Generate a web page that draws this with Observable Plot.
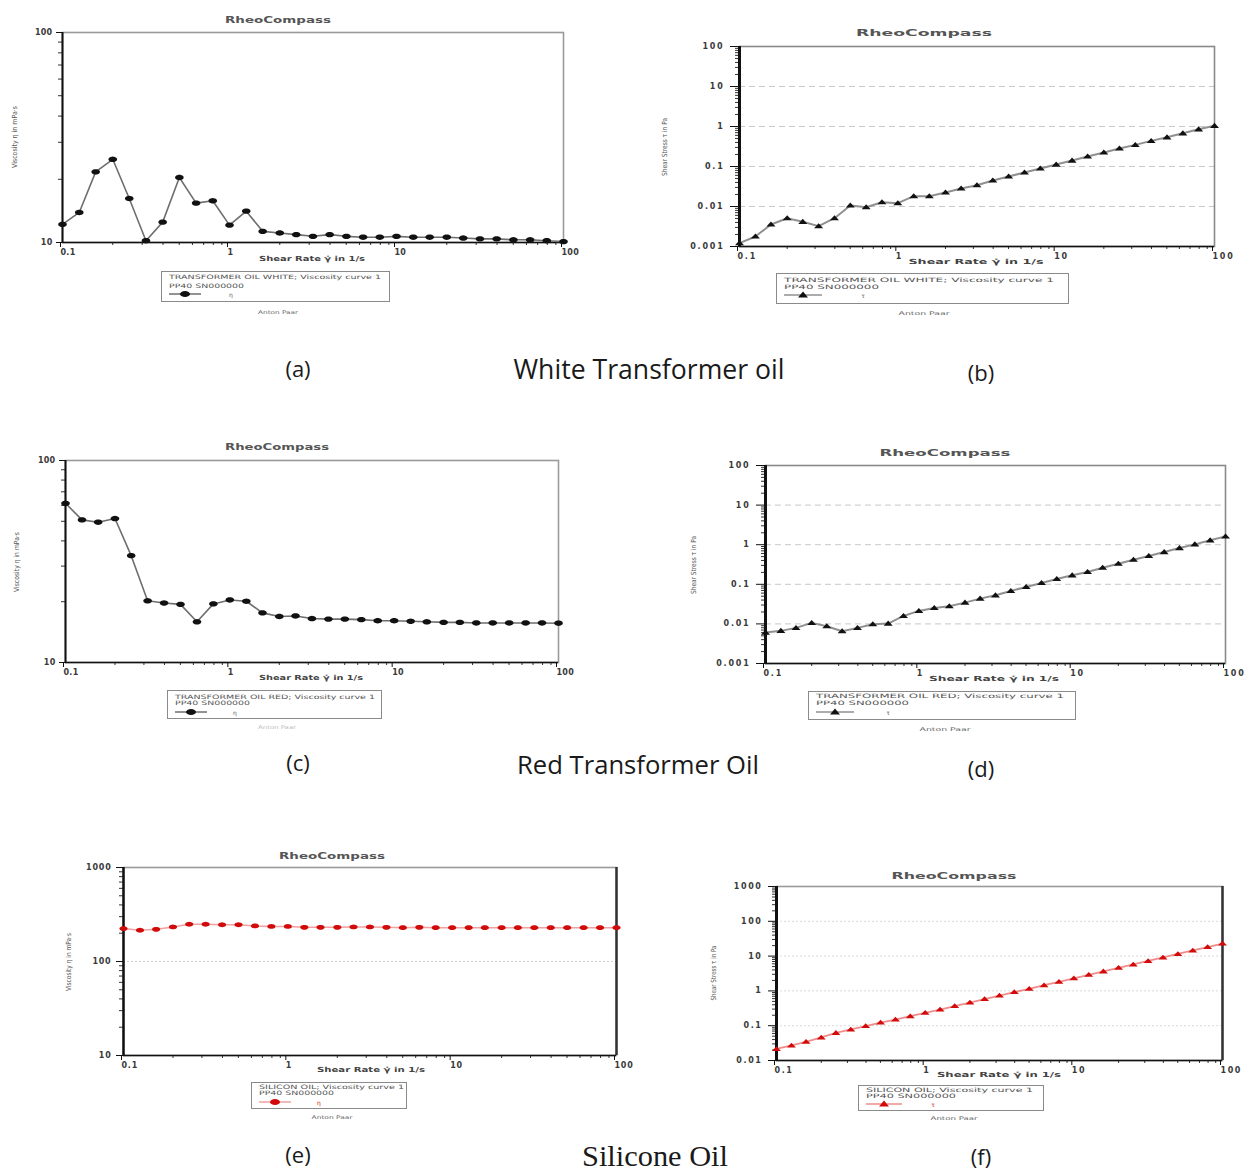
<!DOCTYPE html>
<html>
<head>
<meta charset="utf-8">
<script src="https://cdn.jsdelivr.net/npm/d3@7"></script>
<script src="https://cdn.jsdelivr.net/npm/@observablehq/plot@0.6"></script>
<style>
  html, body { margin: 0; padding: 0; background: #fff; }
  #page { position: relative; width: 1246px; height: 1174px; background: #fff; overflow: hidden; }
  #page svg.panel text { font-family: "DejaVu Sans", sans-serif; font-weight: bold; fill: #3a3a3a; }
</style>
</head>
<body>
<div id="page"></div>
<script>
// ---------------- data ----------------
const shearRate = [0.1, 0.126, 0.158, 0.2, 0.251, 0.316, 0.398, 0.501, 0.631, 0.794,
  1, 1.26, 1.58, 2, 2.51, 3.16, 3.98, 5.01, 6.31, 7.94,
  10, 12.6, 15.8, 20, 25.1, 31.6, 39.8, 50.1, 63.1, 79.4, 100];

const whiteViscosity = [12.2, 13.9, 21.7, 24.9, 16.2, 10.2, 12.5, 20.4, 15.4, 15.8,
  12.1, 14.1, 11.3, 11.1, 10.9, 10.7, 10.9, 10.7, 10.6, 10.6,
  10.7, 10.6, 10.6, 10.6, 10.5, 10.4, 10.4, 10.3, 10.3, 10.2, 10.1];

const whiteStress = [0.00121, 0.00178, 0.00355, 0.0051, 0.00414, 0.00323, 0.0051, 0.0106, 0.0096, 0.0128,
  0.0121, 0.0181, 0.0181, 0.0224, 0.0282, 0.0341, 0.0447, 0.0562, 0.0708, 0.0891,
  0.112, 0.141, 0.178, 0.224, 0.282, 0.347, 0.437, 0.537, 0.676, 0.851, 1.04];

const redViscosity = [61.4, 50.8, 49.5, 51.6, 33.8, 20.2, 19.7, 19.4, 15.9, 19.5,
  20.4, 20.1, 17.6, 16.9, 17.0, 16.5, 16.4, 16.4, 16.3, 16.1,
  16.1, 16.0, 15.9, 15.8, 15.8, 15.7, 15.7, 15.7, 15.7, 15.7, 15.65];

const redStress = [0.00603, 0.00667, 0.00793, 0.0106, 0.00874, 0.00653, 0.00793, 0.0098, 0.0102, 0.0159,
  0.0213, 0.0253, 0.0279, 0.0345, 0.0435, 0.0528, 0.0679, 0.0857, 0.108, 0.136,
  0.169, 0.205, 0.263, 0.332, 0.418, 0.518, 0.653, 0.824, 1.02, 1.29, 1.62];

const siliconViscosity = [224, 215, 220, 233, 249, 249, 246, 246, 239, 236,
  236, 231, 231, 231, 233, 233, 231, 229, 231, 229,
  229, 229, 229, 229, 229, 229, 229, 229, 229, 229, 229];

const siliconStress = [0.0215, 0.027, 0.0345, 0.046, 0.062, 0.078, 0.097, 0.123, 0.150, 0.187,
  0.234, 0.290, 0.365, 0.462, 0.585, 0.735, 0.92, 1.15, 1.46, 1.82,
  2.30, 2.89, 3.63, 4.58, 5.76, 7.25, 9.12, 11.5, 14.5, 18.2, 23];

const xTickLabels = [0.1, 1, 10, 100];
const viscTicks2 = [10, 100];
const viscTicks3 = [10, 100, 1000];
const stressTicks5 = [0.001, 0.01, 0.1, 1, 10, 100];
const stressTicks6 = [0.01, 0.1, 1, 10, 100, 1000];

const chartTitle = "RheoCompass";
const xTitle = "Shear Rate γ̇ in 1/s";
const viscTitle = "Viscosity η in mPa·s";
const stressTitle = "Shear Stress τ in Pa";
const maker = "Anton Paar";
const measuringSystem = "PP40 SN000000";
const sampleWhite = "TRANSFORMER OIL WHITE; Viscosity curve 1";
const sampleRed = "TRANSFORMER OIL RED; Viscosity curve 1";
const sampleSilicon = "SILICON OIL; Viscosity curve 1";

const panelLetters = ["(a)", "(b)", "(c)", "(d)", "(e)", "(f)"];
const groupNames = ["White Transformer oil", "Red Transformer Oil", "Silicone Oil"];

// ---------------- marker shapes ----------------
const ellipseSymbol = (sx) => ({
  draw(ctx, size) {
    const r = Math.sqrt(size / Math.PI);
    const n = 24;
    for (let i = 0; i < n; i++) {
      const a = 2 * Math.PI * i / n;
      const px = r * sx * Math.cos(a), py = r * Math.sin(a);
      if (i) ctx.lineTo(px, py); else ctx.moveTo(px, py);
    }
    ctx.closePath();
  }
});
const triangleSymbol = (sx) => ({
  draw(ctx, size) {
    const r = Math.sqrt(size / Math.PI);
    ctx.moveTo(0, -r);
    ctx.lineTo(r * sx, r * 0.7);
    ctx.lineTo(-r * sx, r * 0.7);
    ctx.closePath();
  }
});

const page = document.getElementById("page");

function addText(str, x, y, o) {
  const d = document.createElement("div");
  d.textContent = str;
  Object.assign(d.style, {
    position: "absolute", left: x + "px", top: y + "px", whiteSpace: "nowrap", lineHeight: "1",
    fontFamily: o.font || "'DejaVu Sans', sans-serif", fontSize: o.size + "px",
    fontWeight: o.weight || "normal", color: o.color || "#333"
  });
  page.appendChild(d);
  const w = d.getBoundingClientRect().width;
  const k = o.target ? o.target / w : 1;
  if (o.align === "left") {
    d.style.transformOrigin = "0 50%";
    d.style.transform = `translate(0,-50%) scaleX(${k})`;
  } else {
    const rot = o.rotate ? " rotate(-90deg)" : "";
    d.style.transform = `translate(-50%,-50%)${rot} scaleX(${k})`;
  }
  return d;
}

function addCaption(str, cx, cy, font, size, target) {
  const d = document.createElement("div");
  d.textContent = str;
  Object.assign(d.style, {position: "absolute", left: cx + "px", top: cy + "px", whiteSpace: "nowrap",
    lineHeight: "1", fontFamily: font, fontSize: size + "px", color: "#1a1a1a"});
  page.appendChild(d);
  if (target) {
    const w = d.getBoundingClientRect().width;
    d.style.fontSize = (size * target / w) + "px";
  }
  d.style.transform = "translate(-50%,-50%)";
}

function makePanel(p) {
  const ml = 60, mr = 16, mt = 8, mb = 16;
  const fw = p.right - p.left, fh = p.bottom - p.top;
  const data = shearRate.map((x, i) => ({x, y: p.values[i]}));
  const yMinor = d3.scaleLog().domain(p.yDomain).ticks().filter(v => !p.yTicks.includes(v));
  const xMinor = d3.scaleLog().domain([0.1, 100]).ticks().filter(v => !xTickLabels.includes(v));
  const marks = [];
  for (const g of p.grid) {
    marks.push(Plot.ruleY(g.values, {stroke: g.stroke, strokeDasharray: g.dash, strokeWidth: 1}));
  }
  marks.push(Plot.frame({stroke: p.frameColor, strokeWidth: 1.6}));
  if (p.rightDark) marks.push(Plot.ruleX([100], {stroke: "#333", strokeWidth: 2.5}));
  marks.push(Plot.axisX({ticks: xMinor, tickSize: 3, tickFormat: () => "", stroke: "#333", label: null}));
  marks.push(Plot.axisX({ticks: xTickLabels, tickSize: 5, tickPadding: 2, tickFormat: d => String(d),
    textAnchor: "start", dx: -2, fontSize: 8, stroke: "#111", label: null}));
  marks.push(Plot.axisY({ticks: yMinor, tickSize: 4, tickFormat: () => "", stroke: "#333", label: null}));
  marks.push(Plot.axisY({ticks: p.yTicks, tickSize: p.majorLen, tickPadding: p.labelPad, tickFormat: d => String(d),
    fontSize: 8, stroke: "#111", label: null}));
  marks.push(Plot.ruleX([0.1], {stroke: "#111", strokeWidth: p.axisWidth}));
  marks.push(Plot.ruleY([p.yDomain[0]], {stroke: "#111", strokeWidth: 1.6}));
  marks.push(Plot.line(data, {x: "x", y: "y", stroke: p.lineColor, strokeWidth: p.lineWidth}));
  marks.push(Plot.dot(data, {x: "x", y: "y", r: p.r, symbol: p.symbol, fill: p.dotColor, stroke: "none"}));

  const svg = Plot.plot({
    width: fw + ml + mr, height: fh + mt + mb,
    marginLeft: ml, marginRight: mr, marginTop: mt, marginBottom: mb,
    x: {type: "log", domain: [0.1, 100], label: null},
    y: {type: "log", domain: p.yDomain, label: null},
    style: {background: "transparent", fontSize: "8px", letterSpacing: p.spacing + "px", overflow: "visible"},
    marks
  });
  svg.classList.add("panel");
  Object.assign(svg.style, {position: "absolute", left: (p.left - ml) + "px", top: (p.top - mt) + "px"});
  page.appendChild(svg);

  // texts
  addText(chartTitle, p.title[0], p.title[1], {size: 9, weight: "bold", color: "#555", target: p.title[2]});
  addText(xTitle, p.xTitle[0], p.xTitle[1], {size: 7, weight: "bold", color: "#444", target: p.xTitle[2]});
  addText(p.yLabel, p.yTitle[0], p.yTitle[1], {size: 7, color: "#555", rotate: true, target: p.yTitle[2]});

  // legend
  const L = p.legend;
  const box = document.createElement("div");
  Object.assign(box.style, {position: "absolute", left: L.x + "px", top: L.y + "px", width: L.w + "px",
    height: L.h + "px", border: "1.5px solid #8a8a8a", boxSizing: "border-box"});
  page.appendChild(box);
  addText(p.sample, L.x + 8, L.y + L.o1, {size: 6, color: "#555", align: "left", target: L.t1});
  addText(measuringSystem, L.x + 8, L.y + L.o2, {size: 6, color: "#555", align: "left", target: L.t2});
  const sw = document.createElement("div");
  const w = L.sw;
  const shape = p.kind === "circle"
    ? `<ellipse cx="${w / 2}" cy="4" rx="5" ry="3" fill="${p.dotColor}"/>`
    : `<path d="M${w / 2},0.5 L${w / 2 + 5},6.5 L${w / 2 - 5},6.5Z" fill="${p.dotColor}"/>`;
  sw.innerHTML = `<svg width="${w}" height="8"><line x1="0" y1="4" x2="${w}" y2="4" stroke="${p.lineColor}" stroke-width="1.5"/>${shape}</svg>`;
  Object.assign(sw.style, {position: "absolute", left: (L.x + 8) + "px", top: (L.y + L.o3 - 4) + "px", lineHeight: "0"});
  page.appendChild(sw);
  addText(p.sym, L.x + L.symOff, L.y + L.o3 + 1, {size: 6, color: p.dotColor === red ? red : "#555"});
  addText(maker, p.ap[0], p.ap[1], {size: 5, color: p.apColor || "#666", target: p.ap[2]});
}

const black = "#111", red = "#d10a0a";

const panels = [
  { // (a)
    left: 62, right: 563, top: 32, bottom: 242, yDomain: [10, 100], yTicks: viscTicks2, values: whiteViscosity,
    title: [278, 20, 106], xTitle: [312, 259, 106], yTitle: [15, 137, 62], yLabel: viscTitle,
    legend: {x: 161, y: 271, w: 229, h: 31, t1: 212, t2: 75, sw: 32, symOff: 70, o1: 6, o2: 15, o3: 23},
    ap: [278, 312, 40], sample: sampleWhite, sym: "η", kind: "circle",
    symbol: ellipseSymbol(1.6), r: 2.7, dotColor: black, lineColor: "#6e6e6e", lineWidth: 1.6,
    grid: [], frameColor: "#9a9a9a", axisWidth: 2, majorLen: 6, labelPad: 4, spacing: 0.3
  },
  { // (b)
    left: 739, right: 1214, top: 46, bottom: 246, yDomain: [0.001, 100], yTicks: stressTicks5, values: whiteStress,
    title: [924, 33, 136], xTitle: [976, 262, 135], yTitle: [665, 147, 58], yLabel: stressTitle,
    legend: {x: 776, y: 273, w: 293, h: 31, t1: 270, t2: 95, sw: 38, symOff: 87, o1: 7, o2: 14, o3: 22},
    ap: [924, 313, 51], sample: sampleWhite, sym: "τ", kind: "triangle",
    symbol: triangleSymbol(1.5), r: 3, dotColor: black, lineColor: "#909090", lineWidth: 2,
    grid: [{values: [0.01, 0.1, 1, 10], stroke: "#c8c8c8", dash: "6,4"}],
    frameColor: "#8a8a8a", axisWidth: 3, majorLen: 9, labelPad: 6, spacing: 1.8
  },
  { // (c)
    left: 65, right: 558, top: 460, bottom: 662, yDomain: [10, 100], yTicks: viscTicks2, values: redViscosity,
    title: [277, 447, 104], xTitle: [311, 678, 104], yTitle: [17, 562, 60], yLabel: viscTitle,
    legend: {x: 167, y: 690, w: 215, h: 29, t1: 200, t2: 75, sw: 32, symOff: 68, o1: 7, o2: 13, o3: 22},
    ap: [277, 727, 38], apColor: "#bbb", sample: sampleRed, sym: "η", kind: "circle",
    symbol: ellipseSymbol(1.6), r: 2.7, dotColor: black, lineColor: "#6e6e6e", lineWidth: 1.6,
    grid: [], frameColor: "#9a9a9a", axisWidth: 2, majorLen: 6, labelPad: 4, spacing: 0.3
  },
  { // (d)
    left: 765, right: 1225, top: 465, bottom: 663, yDomain: [0.001, 100], yTicks: stressTicks5, values: redStress,
    title: [945, 453, 131], xTitle: [994, 679, 130], yTitle: [694, 565, 58], yLabel: stressTitle,
    legend: {x: 808, y: 691, w: 268, h: 29, t1: 248, t2: 93, sw: 38, symOff: 80, o1: 5, o2: 12, o3: 21},
    ap: [945, 729, 51], sample: sampleRed, sym: "τ", kind: "triangle",
    symbol: triangleSymbol(1.5), r: 3, dotColor: black, lineColor: "#909090", lineWidth: 2,
    grid: [{values: [0.01, 0.1, 1, 10], stroke: "#c8c8c8", dash: "6,4"}],
    frameColor: "#8a8a8a", axisWidth: 3, majorLen: 9, labelPad: 6, spacing: 1.8
  },
  { // (e)
    left: 123, right: 616, top: 867, bottom: 1055, yDomain: [10, 1000], yTicks: viscTicks3, values: siliconViscosity,
    title: [332, 856, 106], xTitle: [371, 1070, 108], yTitle: [69, 962, 58], yLabel: viscTitle,
    legend: {x: 251, y: 1082, w: 156, h: 27, t1: 145, t2: 75, sw: 32, symOff: 68, o1: 5, o2: 11, o3: 20},
    ap: [332, 1117, 41], sample: sampleSilicon, sym: "η", kind: "circle",
    symbol: ellipseSymbol(1.7), r: 2.4, dotColor: red, lineColor: "#f2a0a0", lineWidth: 1.6,
    grid: [{values: [100], stroke: "#d0d0d0", dash: "2,2"}],
    frameColor: "#9a9a9a", rightDark: true, axisWidth: 2.5, majorLen: 7, labelPad: 5, spacing: 0.8
  },
  { // (f)
    left: 776, right: 1222, top: 886, bottom: 1060, yDomain: [0.01, 1000], yTicks: stressTicks6, values: siliconStress,
    title: [954, 876, 125], xTitle: [999, 1075, 124], yTitle: [714, 973, 55], yLabel: stressTitle,
    legend: {x: 858, y: 1085, w: 186, h: 26, t1: 167, t2: 90, sw: 36, symOff: 75, o1: 4.5, o2: 11, o3: 19},
    ap: [954, 1118, 47], sample: sampleSilicon, sym: "τ", kind: "triangle",
    symbol: triangleSymbol(1.6), r: 2.8, dotColor: red, lineColor: "#f08c8c", lineWidth: 1.8,
    grid: [{values: [0.1, 1, 10, 100], stroke: "#dadada", dash: "2,2"}],
    frameColor: "#9a9a9a", rightDark: true, axisWidth: 3, majorLen: 8, labelPad: 6, spacing: 1.6
  }
];

panels.forEach(makePanel);

// captions
const capFont = "'Open Sans', 'Noto Sans', sans-serif";
addCaption(panelLetters[0], 298, 368, capFont, 22);
addCaption(groupNames[0], 649, 369, capFont, 22, 271);
addCaption(panelLetters[1], 981, 372, capFont, 22);
addCaption(panelLetters[2], 298, 762, capFont, 22);
addCaption(groupNames[1], 638, 765, capFont, 22, 242);
addCaption(panelLetters[3], 981, 768, capFont, 22);
addCaption(panelLetters[4], 298, 1154, capFont, 22);
addCaption(groupNames[2], 655, 1156, "'Liberation Serif', serif", 24, 146);
addCaption(panelLetters[5], 981, 1156, capFont, 22);
</script>
</body>
</html>
